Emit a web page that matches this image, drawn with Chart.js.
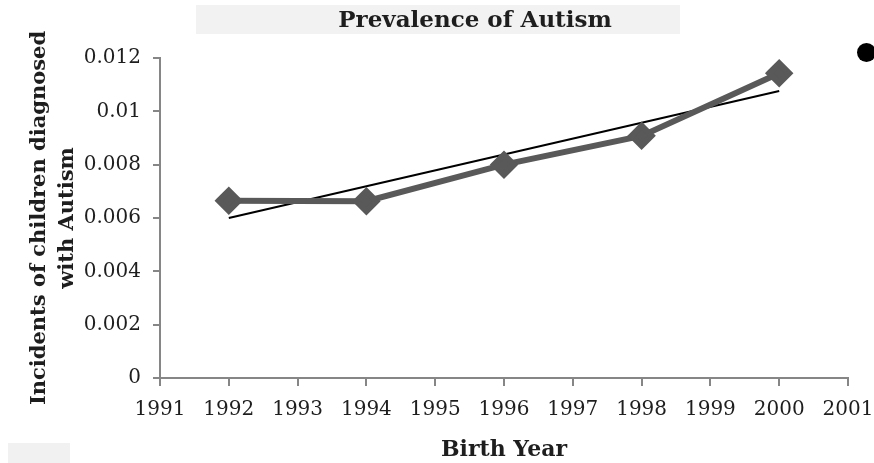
<!DOCTYPE html>
<html>
<head>
<meta charset="utf-8">
<script src="https://cdn.jsdelivr.net/npm/chart.js@4.4.0/dist/chart.umd.min.js"></script>
<style>
  html, body { margin: 0; padding: 0; background: #fff; }
  #wrap { position: relative; width: 874px; height: 463px; }
  #dot { position: absolute; left: 857px; top: 43px; width: 19px; height: 19px; border-radius: 50%; background: #000; }
  #patch { position: absolute; left: 8px; top: 443px; width: 62px; height: 20px; background: #f1f1f1; }
</style>
</head>
<body>
<div id="wrap">
  <div id="patch"></div>
  <canvas id="myChart" width="874" height="463"></canvas>
  <div id="dot"></div>
</div>
<script>
// datos
const chartTitle = 'Prevalence of Autism';
const years = [1992, 1994, 1996, 1998, 2000];
const incidents = [0.00665, 0.00663, 0.0080, 0.00908, 0.01143];
const trendYears = [1992, 2000];
const trendValues = [0.0060, 0.01076];
const yTicks = [0, 0.002, 0.004, 0.006, 0.008, 0.01, 0.012];

// banda gris y titulo
const titleBand = {
    id: 'titleBand',
    beforeDraw(chart) {
        const ctx = chart.ctx;
        ctx.save();
        ctx.fillStyle = '#f2f2f2';
        ctx.fillRect(196, 5, 484, 29);
        ctx.fillStyle = '#1e1e1e';
        ctx.font = 'bold 23px "DejaVu Serif"';
        ctx.textAlign = 'center';
        ctx.textBaseline = 'middle';
        ctx.fillText(chartTitle, 475, 21);
        ctx.restore();
    }
};

const ctx = document.getElementById('myChart').getContext('2d');
const myChart = new Chart(ctx, {
    type: 'line',
    data: {
        datasets: [{
            label: 'Incidents',
            data: years.map((y, i) => ({ x: y, y: incidents[i] })),
            borderColor: '#595959',
            backgroundColor: '#595959',
            borderWidth: 6,
            pointStyle: 'rectRot',
            pointRadius: 10,
            pointHoverRadius: 10,
            tension: 0
        }, {
            label: 'Linear',
            data: trendYears.map((y, i) => ({ x: y, y: trendValues[i] })),
            borderColor: '#000',
            borderWidth: 2,
            pointRadius: 0,
            tension: 0
        }]
    },
    options: {
        responsive: false,
        animation: false,
        layout: { padding: { left: 0, right: 0, top: 58, bottom: 0 } },
        plugins: {
            legend: { display: false },
            tooltip: { enabled: false },
            title: { display: false }
        },
        scales: {
            x: {
                type: 'linear',
                min: 1991,
                max: 2001,
                ticks: {
                    stepSize: 1,
                    color: '#1e1e1e',
                    padding: 12,
                    font: { family: 'DejaVu Serif', size: 20 },
                    callback: v => String(v)
                },
                grid: {
                    drawOnChartArea: false,
                    color: '#868686',
                    tickLength: 8,
                    lineWidth: 2
                },
                border: { color: '#868686', width: 2 },
                title: {
                    display: true,
                    text: 'Birth Year',
                    color: '#1e1e1e',
                    font: { family: 'DejaVu Serif', size: 22, weight: 'bold' },
                    padding: { top: 0, bottom: 0 }
                },
                afterFit: function(scale) {
                    scale.height = 85;
                    scale.paddingRight = 26;
                    scale.paddingLeft = 0;
                }
            },
            y: {
                min: 0,
                max: 0.012,
                afterBuildTicks: function(scale) {
                    scale.ticks = yTicks.map(v => ({ value: v }));
                },
                ticks: {
                    color: '#1e1e1e',
                    padding: 12,
                    font: { family: 'DejaVu Serif', size: 20 },
                    callback: v => String(v)
                },
                grid: {
                    drawOnChartArea: false,
                    color: '#868686',
                    tickLength: 7,
                    lineWidth: 2
                },
                border: { color: '#868686', width: 2 },
                title: {
                    display: true,
                    text: ['Incidents of children diagnosed', 'with Autism'],
                    color: '#1e1e1e',
                    font: { family: 'DejaVu Serif', size: 21, weight: 'bold', lineHeight: 1.33 },
                    padding: { top: 26, bottom: 0 }
                },
                afterFit: function(scale) {
                    scale.width = 160;
                    scale.paddingTop = 0;
                    scale.paddingBottom = 0;
                }
            }
        }
    },
    plugins: [titleBand]
});
</script>
</body>
</html>
